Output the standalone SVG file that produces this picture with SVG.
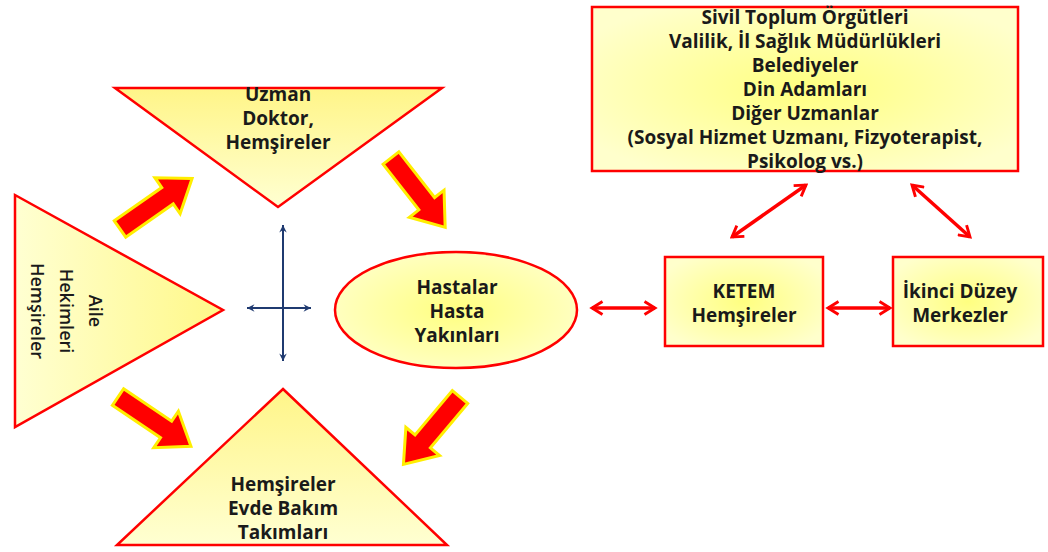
<svg xmlns="http://www.w3.org/2000/svg" width="1048" height="552" viewBox="0 0 1048 552">
<defs>
<style>
.t{font-family:"Open Sans","Liberation Sans",sans-serif;font-weight:bold;font-size:19px;fill:#1a1a1a;text-anchor:middle}
.tr{font-family:"Open Sans","Liberation Sans",sans-serif;font-weight:600;font-size:18px;fill:#1a1a1a;text-anchor:middle}
.shape{stroke:#FF0000;stroke-width:2.5}
.big{fill:#FF0000;stroke:#FFEE00;stroke-width:3;stroke-linejoin:miter}
.red2{stroke:#FF0000;stroke-width:3.5;fill:none}
.blue{stroke:#1F3A70;stroke-width:2;fill:none}
</style>
<radialGradient id="rg" cx="50%" cy="50%" r="60%">
<stop offset="0" stop-color="#FFFF80"/>
<stop offset="1" stop-color="#FFFFCC"/>
</radialGradient>
<linearGradient id="gdown" x1="0" y1="0" x2="0" y2="1">
<stop offset="0" stop-color="#FFF588"/>
<stop offset="1" stop-color="#FFFFD2"/>
</linearGradient>
<linearGradient id="gright" x1="0" y1="0" x2="1" y2="0">
<stop offset="0" stop-color="#FFFFD2"/>
<stop offset="1" stop-color="#FFF888"/>
</linearGradient>
<marker id="rh" viewBox="0 0 12 12" refX="10" refY="6" markerWidth="4.5" markerHeight="4.5" orient="auto-start-reverse" markerUnits="strokeWidth">
<path d="M2,1 L10,6 L2,11" fill="none" stroke="#FF0000" stroke-width="2.2" stroke-linejoin="miter"/>
</marker>
<marker id="bh" viewBox="0 0 12 12" refX="10" refY="6" markerWidth="5" markerHeight="5" orient="auto-start-reverse" markerUnits="strokeWidth">
<path d="M1,1.5 L10,6 L1,10.5 L4,6 Z" fill="#1F3A70"/>
</marker>
<path id="blk" d="M0,-10 L58,-10 L58,-22 L88,0 L58,22 L58,10 L0,10 Z"/>
</defs>
<rect width="1048" height="552" fill="#FFFFFF"/>

<g id="node-uzman">
<polygon class="shape" points="115,88 442,88 278,207" fill="url(#gdown)"/>
<text class="t" x="278" y="101">Uzman</text>
<text class="t" x="278" y="125">Doktor,</text>
<text class="t" x="278" y="149">Hemşireler</text>
</g>

<g id="node-aile">
<polygon class="shape" points="15,195 223,310 15,427" fill="url(#gright)"/>
<text class="tr" transform="translate(89,311) rotate(90)">Aile</text>
<text class="tr" transform="translate(60,311) rotate(90)">Hekimleri</text>
<text class="tr" transform="translate(31,311) rotate(90)">Hemşireler</text>
</g>

<g id="node-evde">
<polygon class="shape" points="283,389 447,545 117,545" fill="url(#gdown)"/>
<text class="t" x="283" y="491">Hemşireler</text>
<text class="t" x="283" y="515">Evde Bakım</text>
<text class="t" x="283" y="539">Takımları</text>
</g>

<g id="node-hasta">
<ellipse class="shape" cx="456" cy="310" rx="121" ry="58" fill="url(#rg)"/>
<text class="t" x="457" y="294">Hastalar</text>
<text class="t" x="457" y="318">Hasta</text>
<text class="t" x="457" y="342">Yakınları</text>
</g>

<g id="node-stk">
<rect class="shape" x="592" y="7" width="426" height="164" fill="url(#rg)"/>
<text class="t" x="805" y="24">Sivil Toplum Örgütleri</text>
<text class="t" x="805" y="48">Valilik, İl Sağlık Müdürlükleri</text>
<text class="t" x="805" y="72">Belediyeler</text>
<text class="t" x="805" y="96">Din Adamları</text>
<text class="t" x="805" y="120">Diğer Uzmanlar</text>
<text class="t" x="805" y="144">(Sosyal Hizmet Uzmanı, Fizyoterapist,</text>
<text class="t" x="805" y="168">Psikolog vs.)</text>
</g>

<g id="node-ketem">
<rect class="shape" x="665" y="257" width="158" height="89" fill="url(#rg)"/>
<text class="t" x="744" y="298">KETEM</text>
<text class="t" x="744" y="322">Hemşireler</text>
</g>

<g id="node-ikinci">
<rect class="shape" x="893" y="257" width="150" height="89" fill="url(#rg)"/>
<text class="t" x="960" y="298">İkinci Düzey</text>
<text class="t" x="960" y="322">Merkezler</text>
</g>

<g id="connectors">
<use href="#blk" class="big" transform="translate(120,229) rotate(-35)"/>
<use href="#blk" class="big" transform="translate(391,158) rotate(52)"/>
<use href="#blk" class="big" transform="translate(118,397) rotate(34)"/>
<use href="#blk" class="big" transform="translate(460,397) rotate(130)"/>
<line class="blue" x1="283" y1="225" x2="283" y2="361" marker-start="url(#bh)" marker-end="url(#bh)"/>
<line class="blue" x1="247" y1="308" x2="311" y2="308" marker-start="url(#bh)" marker-end="url(#bh)"/>
<line class="red2" x1="592" y1="308" x2="655" y2="308" marker-start="url(#rh)" marker-end="url(#rh)"/>
<line class="red2" x1="828" y1="308" x2="890" y2="308" marker-start="url(#rh)" marker-end="url(#rh)"/>
<line class="red2" x1="806" y1="185" x2="732" y2="237" marker-start="url(#rh)" marker-end="url(#rh)"/>
<line class="red2" x1="912" y1="185" x2="970" y2="237" marker-start="url(#rh)" marker-end="url(#rh)"/>
</g>
</svg>
